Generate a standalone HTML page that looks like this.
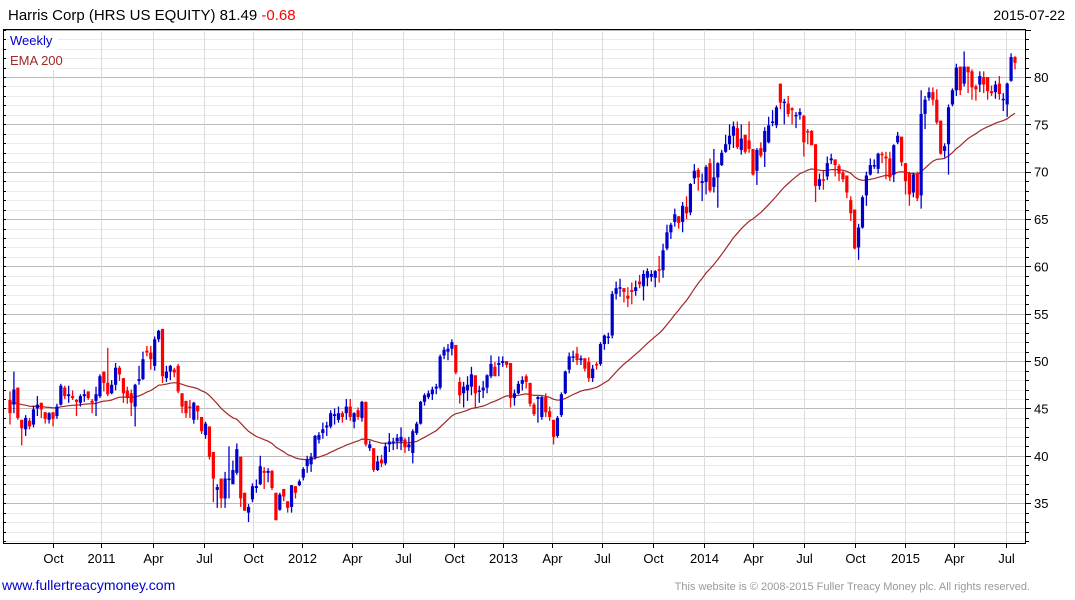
<!DOCTYPE html>
<html><head><meta charset="utf-8"><style>
body{margin:0;background:#fff;}
svg{display:block;font-family:"Liberation Sans",sans-serif;}
</style></head><body>
<svg id="chart" width="1075" height="600" viewBox="0 0 1075 600">
<text x="8" y="20" font-size="15" fill="#000">Harris Corp (HRS US EQUITY) 81.49 <tspan fill="#ff0000">-0.68</tspan></text>
<text x="1065" y="20" font-size="14" fill="#000" text-anchor="end">2015-07-22</text>
<g id="grid"></g>
<g id="ema"></g>
<g id="candles"></g>
<g id="axes"></g>
<rect x="10" y="32" width="48" height="38" fill="#fff"/>
<text x="10" y="45" font-size="13" fill="#0000cc">Weekly</text>
<text x="10" y="65" font-size="13" fill="#a02828">EMA 200</text>
<text x="2" y="590" font-size="14" fill="#0000cc">www.fullertreacymoney.com</text>
<text x="1030" y="590" font-size="11" fill="#999" text-anchor="end">This website is © 2008-2015 Fuller Treacy Money plc. All rights reserved.</text>
</svg>
<script>
const opens=[45.9,45.4,47.2,43.8,42.8,43.7,43.3,45.0,45.6,44.6,43.8,44.6,44.2,45.4,47.2,46.3,46.3,45.9,45.6,46.3,46.8,45.8,45.8,46.3,48.9,47.7,46.6,47.5,49.3,48.2,46.9,46.6,45.2,47.9,48.1,51.1,50.9,49.5,52.3,53.4,48.2,48.9,49.1,49.5,46.6,45.8,45.2,43.8,45.3,44.1,42.2,43.1,40.4,36.4,37.6,35.5,37.6,37.0,38.2,39.9,36.1,34.0,35.4,36.6,37.0,38.4,38.2,38.4,36.1,34.3,36.5,35.2,34.6,36.8,36.9,37.7,38.9,39.1,39.8,41.7,42.4,43.0,
43.1,44.2,43.8,44.5,44.5,45.2,43.6,44.8,44.0,45.7,40.8,40.8,38.5,39.6,39.2,41.2,41.4,41.5,41.5,41.7,40.9,40.3,42.4,43.4,45.7,46.2,46.5,47.1,47.2,50.6,51.0,51.3,51.7,47.8,46.6,46.9,47.3,48.5,46.8,46.9,47.2,48.4,49.4,49.6,49.8,50.0,49.8,46.1,46.6,47.6,48.4,47.7,45.4,46.0,44.1,46.2,44.7,43.8,42.1,44.3,46.6,49.1,50.4,50.8,50.1,50.3,49.9,48.2,49.7,49.7,51.8,52.5,52.7,57.1,57.7,57.7,
56.9,57.5,57.4,58.4,57.9,58.8,58.9,58.8,59.7,59.6,61.9,63.6,64.7,65.3,64.7,66.3,65.7,69.3,70.2,68.8,68.9,70.9,68.4,69.4,70.7,72.1,72.9,73.8,74.6,72.3,73.9,73.3,72.4,70.1,72.5,72.1,73.1,75.2,74.9,79.3,77.3,77.2,76.7,75.9,76.0,75.9,74.3,74.3,72.9,68.5,69.2,69.5,71.2,71.3,
70.6,69.9,69.6,67.0,66.0,62.0,64.1,67.5,69.7,70.6,70.3,71.9,71.6,71.4,69.7,73.1,73.7,70.9,69.8,67.8,69.8,67.5,76.1,77.8,78.4,77.6,75.4,72.2,72.9,77.1,78.6,81.1,79.3,81.1,80.6,79.0,79.2,80.0,80.0,78.5,78.4,79.3,77.6,77.1,79.6,82.1];
const closes=[44.5,47.0,44.0,42.9,44.0,43.1,44.9,45.4,44.9,43.9,44.5,43.9,45.2,47.4,46.3,46.5,46.1,45.7,46.3,46.5,46.1,45.6,46.5,48.4,47.7,46.5,47.5,49.3,48.6,46.6,46.1,45.6,47.5,48.1,50.2,50.9,50.2,52.3,53.2,48.4,48.9,49.5,48.8,46.8,45.2,44.5,45.1,45.6,44.7,42.6,43.4,39.9,37.6,36.7,35.5,37.6,37.6,38.5,40.7,35.5,34.2,34.6,36.8,36.8,38.9,38.2,38.4,36.6,33.2,35.9,35.7,34.5,36.9,36.1,37.3,38.6,39.6,39.9,42.1,42.2,42.8,43.2,
44.5,44.4,44.5,44.1,45.2,44.1,44.5,44.1,45.7,41.2,41.2,38.5,39.4,39.2,41.0,41.5,41.5,41.9,42.0,40.9,41.2,42.6,43.4,45.7,46.4,46.6,47.0,47.3,50.5,51.2,51.3,52.0,48.8,46.4,47.3,47.5,48.6,46.6,46.9,47.2,48.5,49.7,48.4,49.8,50.0,49.6,46.1,46.6,47.6,48.0,47.8,45.5,44.4,46.2,46.2,44.6,44.1,42.0,44.0,46.5,48.9,50.5,50.5,50.1,50.3,49.2,48.2,49.2,49.6,51.8,52.7,52.6,57.1,57.7,57.8,57.3,
56.6,57.3,57.8,58.1,59.2,59.5,59.2,59.5,59.6,61.7,63.6,64.4,65.5,64.6,66.4,65.6,68.7,70.1,69.4,69.0,70.5,68.0,69.4,70.9,72.0,72.9,73.8,74.8,72.6,73.5,72.1,72.4,69.7,72.3,71.7,74.3,74.9,75.3,76.8,77.3,77.4,76.1,76.5,76.0,76.3,73.1,74.2,72.8,68.5,69.2,69.1,70.9,71.4,70.7,
69.8,69.2,67.8,65.6,61.9,64.1,67.3,69.6,70.7,70.7,71.9,71.8,71.4,69.4,72.8,73.8,71.0,69.0,67.6,69.7,67.2,76.1,77.6,78.4,77.6,75.2,71.9,72.7,76.8,78.6,81.0,78.6,81.1,80.5,78.9,78.7,80.1,79.2,78.5,78.3,79.2,78.2,77.7,79.3,82.1,81.5];
const highs=[46.8,48.9,47.2,43.8,44.3,44.0,45.3,46.3,45.6,44.6,44.6,44.6,45.5,47.6,47.4,47.4,46.9,46.0,46.5,47.0,46.8,46.0,47.3,48.6,48.9,51.4,48.0,49.8,49.5,48.2,47.3,47.0,47.6,49.5,51.0,51.6,51.6,52.6,53.3,53.4,49.5,49.6,49.3,49.7,46.6,45.8,45.9,45.7,45.3,44.1,43.6,43.1,40.4,37.0,37.6,38.3,41.0,39.5,41.3,39.9,36.1,34.9,37.1,37.5,40.0,38.8,38.7,38.5,36.1,36.1,36.5,35.2,36.9,36.8,37.5,38.8,40.0,40.3,42.2,42.5,43.5,43.6,
44.8,45.0,45.2,44.7,46.0,46.0,44.6,45.1,45.8,45.7,41.6,40.8,40.0,40.1,41.4,42.4,41.9,42.3,43.0,41.9,42.0,42.8,43.6,45.8,46.6,46.9,47.3,47.6,50.7,51.5,51.8,52.3,51.7,48.3,47.8,48.4,49.4,48.5,47.4,47.9,48.6,50.6,49.9,50.5,50.5,50.0,49.8,47.0,47.9,48.4,48.6,47.7,45.6,46.3,46.3,46.6,45.2,43.8,44.2,46.7,49.0,50.9,51.1,51.5,50.6,50.3,50.4,49.6,49.9,52.0,52.8,53.0,57.4,58.4,58.7,57.7,
57.8,58.3,58.5,59.1,59.6,59.8,59.6,59.6,61.1,62.4,64.4,64.6,66.1,65.3,66.8,67.4,68.8,70.8,70.4,69.8,70.7,71.4,72.4,71.0,72.3,73.9,75.0,75.3,75.3,75.0,73.9,75.3,72.4,72.5,73.1,74.7,75.8,76.5,77.0,79.3,77.7,78.0,76.8,76.3,76.7,76.0,74.5,74.4,72.9,69.8,70.2,71.6,71.9,71.3,
70.8,70.1,69.6,67.4,66.0,64.5,67.5,70.0,71.4,71.3,72.0,72.1,72.1,72.1,72.9,74.2,73.7,70.9,70.0,69.9,70.0,78.6,78.0,78.9,78.9,78.7,75.4,73.0,77.1,78.8,81.4,81.1,82.7,81.1,80.8,79.2,80.6,80.6,80.0,79.1,79.6,80.1,78.3,79.4,82.5,82.2];
const lows=[43.3,44.5,43.8,41.1,42.1,42.8,43.0,44.2,44.0,43.4,43.4,43.1,43.9,45.3,46.0,45.6,45.9,44.2,45.2,45.7,45.9,44.5,44.2,46.1,46.8,46.3,46.5,46.9,47.9,45.6,45.5,44.2,43.1,47.5,48.0,50.5,49.1,49.0,52.0,47.7,47.8,48.0,48.3,46.6,44.5,44.0,44.0,43.4,43.8,42.3,41.8,39.6,35.1,34.5,34.5,34.5,35.5,37.0,38.0,34.6,34.2,33.0,35.1,36.1,36.9,36.5,37.2,36.4,33.2,34.2,35.2,34.0,34.0,35.5,36.8,37.4,38.2,38.3,39.6,41.3,41.8,42.1,
42.9,43.3,43.5,43.5,43.8,43.7,42.9,43.8,43.6,41.0,40.5,38.3,38.4,38.8,39.0,40.4,40.6,40.7,40.6,40.3,40.5,39.2,42.2,43.3,45.3,46.0,45.9,46.5,47.0,50.2,50.1,50.6,48.6,45.5,45.1,45.8,46.4,45.0,45.6,46.1,46.6,48.2,48.4,48.4,49.4,49.3,45.1,45.3,46.5,46.9,47.1,45.2,44.2,43.5,43.8,44.1,43.7,41.2,41.9,44.1,46.5,48.7,49.9,49.6,49.6,48.9,47.8,47.8,49.1,49.5,51.2,51.8,52.4,56.5,56.8,56.2,
55.7,56.0,56.9,57.7,56.4,57.9,58.4,57.8,58.3,58.8,61.7,62.9,64.2,64.0,63.6,65.0,65.4,68.7,68.0,66.9,67.6,67.8,67.8,66.2,70.6,72.0,72.3,72.5,72.4,71.8,71.9,72.0,69.6,68.6,71.5,70.5,73.0,74.8,74.6,76.6,75.0,75.8,75.0,74.6,75.5,71.6,72.9,72.8,66.8,68.1,68.1,69.1,70.8,69.5,
69.0,68.9,67.2,64.8,61.8,60.7,64.0,66.4,69.6,70.3,69.8,70.9,69.2,69.0,68.9,72.9,70.6,67.6,66.4,67.3,66.9,66.1,74.5,77.5,77.0,75.0,71.8,71.5,69.7,76.9,78.0,78.1,79.0,78.3,77.6,77.5,78.4,78.3,77.6,78.0,77.7,77.6,76.4,75.8,79.5,80.8];
const emaStart=[45.6];
const yTicks=[35,40,45,50,55,60,65,70,75,80];
const xLabels=["Oct","2011","Apr","Jul","Oct","2012","Apr","Jul","Oct","2013","Apr","Jul","Oct","2014","Apr","Jul","Oct","2015","Apr","Jul"];
const xLabelWeek=[11,23.2,36.5,49.5,62.2,74.7,87.5,100.5,113.5,126,138.5,151.5,164.5,177.5,190,203,216,228.8,241.3,254.6];

const NS="http://www.w3.org/2000/svg";
const L=3,R=1025,T=29,B=543;
const yScale=v=>77+(80-v)*9.47;
const xScale=i=>10+i*(1015-10)/(closes.length-1);
function mk(tag,attrs,parent){const e=document.createElementNS(NS,tag);for(const k in attrs)e.setAttribute(k,attrs[k]);parent.appendChild(e);return e;}
const grid=document.getElementById('grid'),axes=document.getElementById('axes'),cg=document.getElementById('candles'),eg=document.getElementById('ema');
for(let v=31;v<=85;v++){const y=Math.round(yScale(v))+0.5;if(y<T||y>B)continue;
 const major=v%5===0;
 const g=mk('line',{x1:L,x2:R,y1:y,y2:y,stroke:major?'#bcbcbc':'#ebebeb','stroke-width':1},grid);
 
 
 const t=mk('line',{x1:R,x2:R+(major?6:4),y1:y,y2:y,stroke:'#000'},axes);
 
 
 const t2=mk('line',{x1:L,x2:L+3,y1:y,y2:y,stroke:'#000'},axes);
 
 }
yTicks.forEach(v=>{const tx=mk('text',{x:R+9,y:yScale(v)+5,'font-size':13,fill:'#000'},axes);tx.textContent=v;
 
 });
xLabels.forEach((lab,k)=>{const x=Math.round(xScale(xLabelWeek[k]))+0.5;
 const g=mk('line',{x1:x,x2:x,y1:T,y2:B,stroke:'#dcdcdc'},grid);
 
 
 const t=mk('line',{x1:x,x2:x,y1:B,y2:B+5,stroke:'#000'},axes);
 
 
 const tx=mk('text',{x:x,y:B+20,'font-size':13,fill:'#000','text-anchor':'middle'},axes);tx.textContent=lab;
 
 });
const frame=mk('path',{d:`M${L+0.5},${T+0.5}H${R+0.5}V${B+0.5}H${L+0.5}Z`,fill:'none',stroke:'#000'},axes);


let e=emaStart[0];const a=2/41;let pts=[];
closes.forEach((c,i)=>{e=e+a*(c-e);pts.push(xScale(i).toFixed(1)+','+yScale(e).toFixed(1));});
const pl=mk('polyline',{points:pts.join(' '),fill:'none',stroke:'#a02828','stroke-width':1.2},eg);


closes.forEach((c,i)=>{const o=opens[i],x=xScale(i),col=c>=o?'#0000cc':'#ff0000';
 const w=mk('line',{x1:x,x2:x,y1:yScale(highs[i]),y2:yScale(lows[i]),stroke:col,'stroke-width':1.3},cg);
 
 
 const top=yScale(Math.max(o,c)),bot=yScale(Math.min(o,c));
 const r=mk('rect',{x:x-1.6,y:top,width:3.2,height:Math.max(1.5,bot-top),fill:col},cg);
 
 });
</script>
</body></html>
